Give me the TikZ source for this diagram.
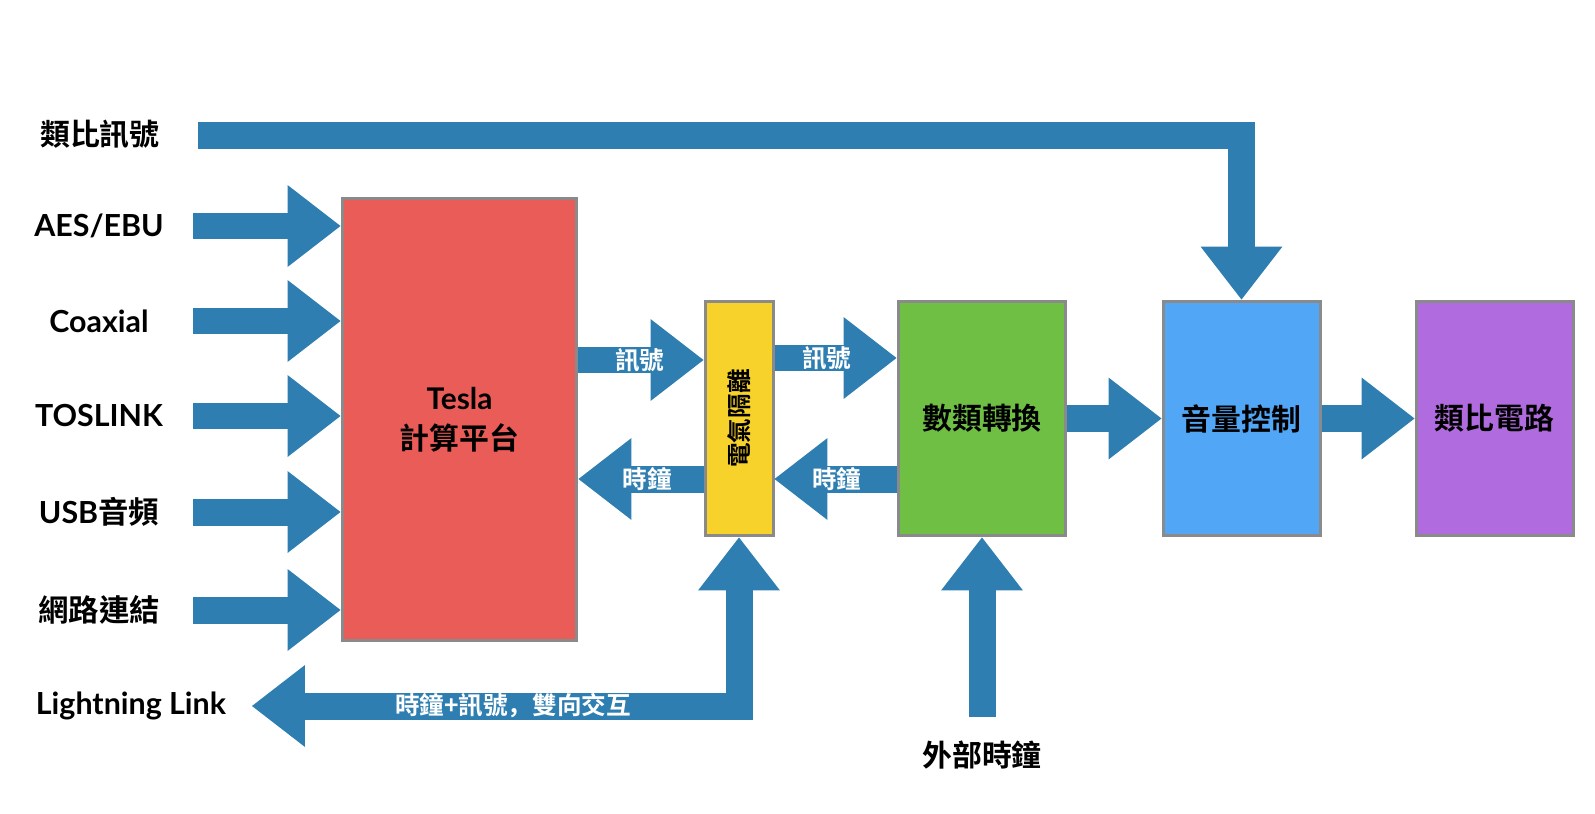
\documentclass[tikz,border=0pt]{standalone}
\usepackage{fontspec}
\setmainfont{Lato}
\newfontfamily\cjk{Noto Sans CJK TC}[BoldFont={Noto Sans CJK TC Bold}]
\newfontfamily\cjksc{Noto Sans CJK SC}[BoldFont={Noto Sans CJK SC Bold}]
\usetikzlibrary{arrows.meta}

\definecolor{flow}{HTML}{2E7EB1}
\definecolor{edge}{HTML}{8A8A8A}
\definecolor{tred}{HTML}{EA5C57}
\definecolor{tyellow}{HTML}{F6D22A}
\definecolor{tgreen}{HTML}{70BF45}
\definecolor{tblue}{HTML}{52A6F6}
\definecolor{tpurple}{HTML}{B06CDF}

\begin{document}
\begin{tikzpicture}[x=0.02cm, y=-0.02cm,
    bigtip/.tip={Triangle[width=1.64cm, length=1.06cm, line width=0pt]},
    fat/.style={draw=flow, line width=0.54cm, line join=miter, -bigtip},
    blk/.style={draw=edge, line width=0.06cm, inner sep=0pt, align=center,
        font=\cjk\bfseries\fontsize{17}{23}\selectfont},
    lab/.style={inner sep=0pt, font=\bfseries\fontsize{17.3}{20}\selectfont},
    clab/.style={inner sep=0pt, font=\cjk\bfseries\fontsize{17}{20}\selectfont},
    tag/.style={inner sep=0pt, text=white, font=\cjk\bfseries\fontsize{14}{16}\selectfont}]

    \useasboundingbox (0,0) rectangle (1595,814);

    % blocks
    \node[blk, fill=tred, minimum width=4.7cm, minimum height=8.86cm] (tesla) at (459.5,419.5)
        {{\rmfamily Tesla}\\計算平台};
    \node[blk, fill=tyellow, minimum width=1.36cm, minimum height=4.7cm] (iso) at (739,418.5) {};
    \node[clab, font=\cjk\bfseries\fontsize{14}{16}\selectfont, rotate=90] (isotxt) at (iso.center) {電氣隔離};
    \node[blk, fill=tgreen, minimum width=3.36cm, minimum height=4.7cm] (dac) at (982,418.5) {數類轉換};
    \node[blk, fill=tblue, minimum width=3.14cm, minimum height=4.7cm] (vol) at (1241.5,418.5) {音量控制};
    \node[blk, fill=tpurple, minimum width=3.14cm, minimum height=4.7cm] (ana) at (1494.5,418.5) {類比電路};

    % digital inputs
    \foreach \nm/\txt/\y in {aes/AES\slash EBU/226, coax/Coaxial/321, tos/TOSLINK/416,
                             usb/USB{\cjk 音頻}/512, net/{\cjk 網路連結}/610} {
        \node[lab] (\nm) at (99,\y) {\txt};
        \coordinate (\nm-s) at (193,\y);
        \draw[fat] (\nm-s) -- (\nm-s -| tesla.west);
    }

    % analog input, bent down into the volume block
    \node[clab] (analog) at (100,134) {類比訊號};
    \coordinate (analog-s) at (198,135.5);
    \draw[fat] (analog-s) -- (analog-s -| vol.north) -- (vol.north);

    % signal and clock through the isolation
    \draw[fat] (tesla.east |- 0,360) -- node[tag, pos=0.49] (sig1) {訊號} (iso.west |- 0,360);
    \draw[fat] (iso.east |- 0,358) -- node[tag, pos=0.43] (sig2) {訊號} (dac.west |- 0,358);
    \draw[fat] (dac.west |- 0,479) -- node[tag, pos=0.49] (clk2) {時鐘} (iso.east |- 0,479);
    \draw[fat] (iso.west |- 0,479) -- node[tag, pos=0.45] (clk1) {時鐘} (tesla.east |- 0,479);

    \draw[fat] (dac.east) -- (vol.west);
    \draw[fat] (vol.east) -- (ana.west);

    % external clock
    \node[clab] (ext) at (982,755) {外部時鐘};
    \coordinate (ext-s) at (982,717);
    \draw[fat] (ext-s) -- (dac.south);

    % Lightning Link, both ways
    \node[lab] (light) at (131,706) {Lightning Link};
    \coordinate (light-e) at (252,706);
    \draw[fat, bigtip-bigtip] (light-e) -- node[tag, pos=0.536] (lk) {時鐘+訊號{\cjksc ，}雙向交互}
        (light-e -| iso.south) -- (iso.south);
\end{tikzpicture}
\end{document}
